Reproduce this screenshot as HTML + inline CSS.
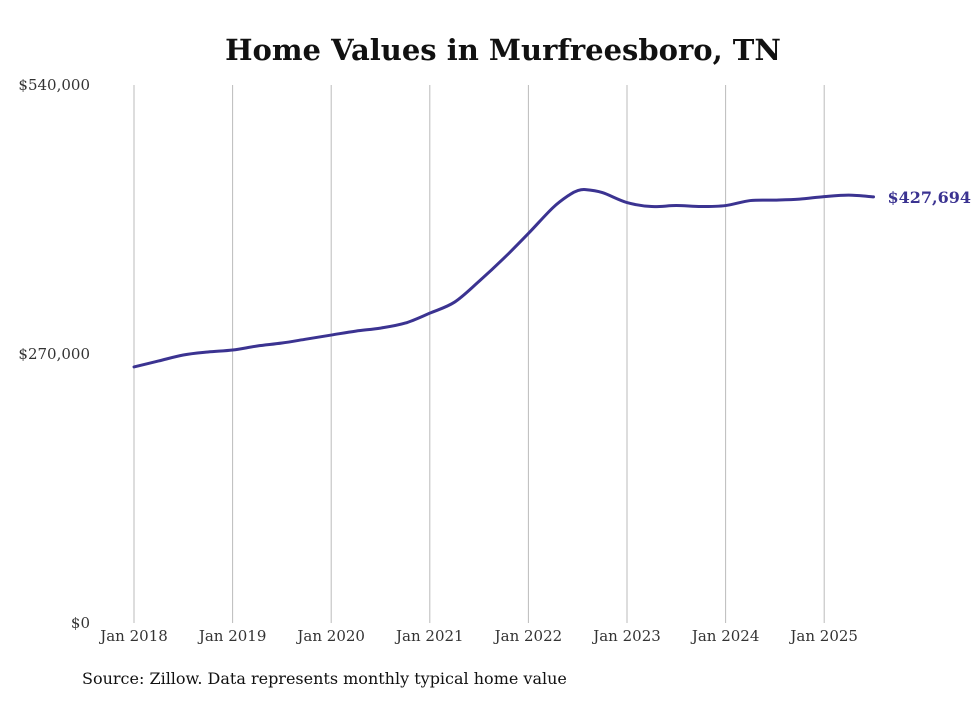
<!DOCTYPE html>
<html><head><meta charset="utf-8"><style>
body{margin:0;background:#fff;}
svg text{font-family:"DejaVu Serif","Liberation Serif",serif;}
</style></head><body>
<svg id="chart" width="980" height="699" viewBox="0 0 980 699" xmlns="http://www.w3.org/2000/svg">
<rect width="980" height="699" fill="#fff"/>
<text x="503" y="60" text-anchor="middle" font-size="29" font-weight="bold" fill="#111">Home Values in Murfreesboro, TN</text>
<g id="grid"></g>
<g id="yaxis"></g>
<g id="xaxis"></g>
<g id="series"></g>
<text x="82" y="684" font-size="16" fill="#111">Source: Zillow. Data represents monthly typical home value</text>
</svg>
<script>
const yTicks=[0,270000,540000];
const yTickLabels=["$0","$270,000","$540,000"];
const xTickYears=[2018,2019,2020,2021,2022,2023,2024,2025];
const xTickLabels=["Jan 2018","Jan 2019","Jan 2020","Jan 2021","Jan 2022","Jan 2023","Jan 2024","Jan 2025"];
const dates=[2018,2018.25,2018.5,2018.75,2019,2019.25,2019.5,2019.75,2020,2020.25,2020.5,2020.75,2021,2021.25,2021.5,2021.75,2022,2022.25,2022.42,2022.5,2022.58,2022.75,2023,2023.25,2023.5,2023.75,2024,2024.25,2024.5,2024.75,2025,2025.25,2025.5];
const values=[257000,263000,269000,272000,274000,278000,281000,285000,289000,293000,296000,301000,311000,322000,343000,366000,391000,417000,430000,434000,435000,432000,422000,418000,419000,418000,419000,424000,424500,425500,428000,429500,427694];
const lastLabel="$427,694";
const NS="http://www.w3.org/2000/svg";
const x=d=>134+(d-2018)*98.6;
const y=v=>623-v/540000*538;
function el(t,a,p){const e=document.createElementNS(NS,t);for(const k in a)e.setAttribute(k,a[k]);p.appendChild(e);return e;}
const grid=document.getElementById('grid'),ya=document.getElementById('yaxis'),xa=document.getElementById('xaxis'),ser=document.getElementById('series');
xTickYears.forEach((yr,i)=>{
 const l=el('line',{x1:x(yr),x2:x(yr),y1:85,y2:623,stroke:'#bbb','stroke-width':1},grid);
 
 
 const t=el('text',{x:x(yr),y:641,'text-anchor':'middle','font-size':15,fill:'#333'},xa);
 t.textContent=xTickLabels[i];
 
 
});
yTicks.forEach((v,i)=>{
 const t=el('text',{x:90,y:y(v)+5,'text-anchor':'end','font-size':15,fill:'#333'},ya);
 t.textContent=yTickLabels[i];
 
 
});
const pts=dates.map((d,i)=>[x(d),y(values[i])]);
let d='M'+pts[0][0]+','+pts[0][1];
for(let i=0;i<pts.length-1;i++){
 const p0=pts[i-1]||pts[i],p1=pts[i],p2=pts[i+1],p3=pts[i+2]||p2;
 const c1=[p1[0]+(p2[0]-p0[0])/6,p1[1]+(p2[1]-p0[1])/6],c2=[p2[0]-(p3[0]-p1[0])/6,p2[1]-(p3[1]-p1[1])/6];
 d+=' C'+c1+' '+c2+' '+p2;
}
const path=el('path',{d:d,fill:'none',stroke:'#3b3391','stroke-width':3,'stroke-linecap':'round'},ser);


const lp=pts[pts.length-1];
const lt=el('text',{x:lp[0]+14,y:lp[1]+6,'font-size':16,'font-weight':'bold',fill:'#3b3391'},ser);
lt.textContent=lastLabel;


</script>
</body></html>
